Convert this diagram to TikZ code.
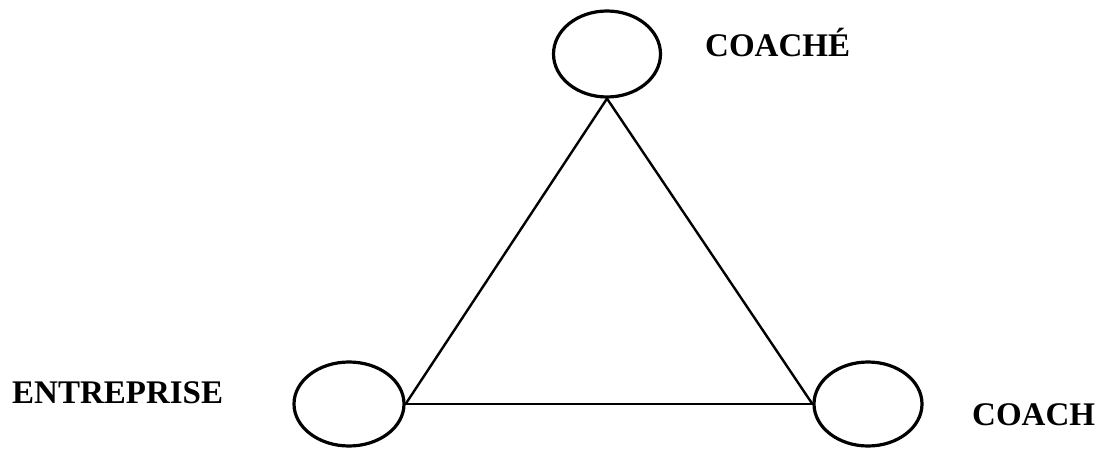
\documentclass[tikz,border=0pt]{standalone}
\usepackage{fontspec}
\setmainfont{Liberation Serif}
\usepackage{tikz}
\usetikzlibrary{shapes.geometric}

\begin{document}
\begin{tikzpicture}[x=1pt,y=-1pt,line cap=round,line join=round,
  pole/.style={draw,ellipse,line width=3.2pt,inner sep=0pt},
  role/.style={anchor=base west,inner sep=0pt,font=\fontsize{33}{36}\selectfont\bfseries},
  lien/.style={line width=2.4pt}]
 \useasboundingbox (0,0) rectangle (1099,449);
 \node[pole,minimum width=107pt,minimum height=86pt] (coache) at (607,54) {};
 \node[pole,minimum width=110pt,minimum height=84pt] (entreprise) at (349,404) {};
 \node[pole,minimum width=108pt,minimum height=84pt] (coach) at (868,404) {};
 \draw[lien] (coache.south) -- (entreprise.east);
 \draw[lien] (coache.south) -- (coach.west);
 \draw[lien] (entreprise.east) -- (coach.west);
 \node[role] (lcoache) at (705,57) {COACHÉ};
 \node[role] (lentreprise) at (12,403) {ENTREPRISE};
 \node[role] (lcoach) at (972,425) {COACH};
\end{tikzpicture}
\end{document}
